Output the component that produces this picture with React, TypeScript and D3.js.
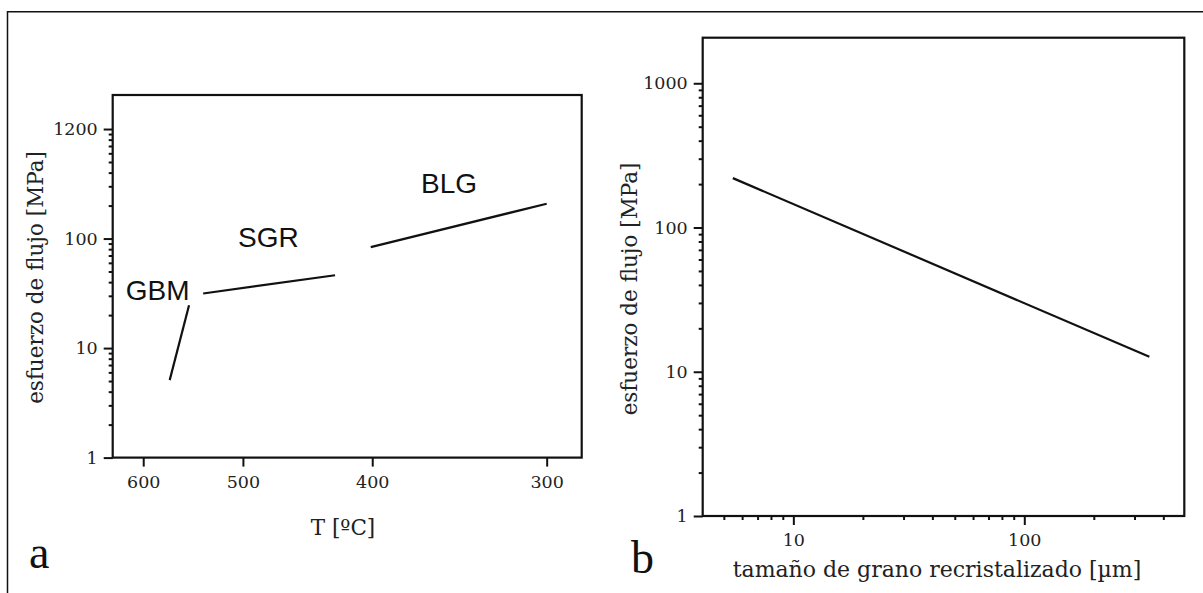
import React, { useRef, useEffect } from "react";
import * as d3 from "d3";

// Panel a: esfuerzo de flujo frente a temperatura (eje x en 1/T)
const tempTicks = [600, 500, 400, 300];
const stressTicksA = [1, 10, 100, 1000];
const stressTickLabelsA = ["1", "10", "100", "1200"];

// Tramos de cada régimen [T ºC, esfuerzo MPa]
const gbmSegment = [
  [571, 5.1],
  [551, 24.6],
];
const sgrSegment = [
  [537, 31.5],
  [426, 46.2],
];
const blgSegment = [
  [401, 83.6],
  [300, 208],
];
const regimeNames = ["GBM", "SGR", "BLG"];
const regimeAnchors = [
  [584, 27.5],
  [478, 84.2],
  [352, 260],
];

// Panel b: piezómetro (tamaño de grano frente a esfuerzo)
const grainTicks = [10, 100];
const stressTicksB = [1, 10, 100, 1000];
const piezometer = [
  [5.47, 220],
  [348, 12.7],
];

const W = 1203;
const H = 593;
const SERIF = "'DejaVu Serif', serif";
const inv = (t: number) => 1 / (t + 273.15);
const isDecade = (v: number) =>
  Math.abs(Math.log10(v) - Math.round(Math.log10(v))) < 1e-6;

const styleAxis = (g: any) => {
  g.select(".domain").remove();
  g.selectAll("line").attr("stroke", "#111").attr("stroke-width", 2);
  g.selectAll("text")
    .attr("fill", "#222")
    .style("font-family", SERIF)
    .style("font-size", "17.5px");
};

export default function App() {
  const ref = useRef<SVGSVGElement>(null);

  useEffect(() => {
    const container = ref.current;
    if (!container) return;
    d3.select(container).selectChildren().remove();
    const svg = d3.select(container);

    // Marco exterior (solo arriba e izquierda)
    svg
      .append("path")
      .attr("d", `M7.5,${H} V11.7 H${W}`)
      .attr("fill", "none")
      .attr("stroke", "#111")
      .attr("stroke-width", 1.5);

    // ---------- Panel a ----------
    const boxA = { left: 112.7, top: 95, right: 581.7, bottom: 457.6 };
    const wA = boxA.right - boxA.left;
    const hA = boxA.bottom - boxA.top;
    const ga = svg
      .append("g")
      .attr("transform", `translate(${boxA.left},${boxA.top})`);

    const xA = d3.scaleLinear().domain([inv(636), inv(283.4)]).range([0, wA]);
    const yA = d3.scaleLog().domain([1, 2045]).range([hA, 0]);

    ga.append("g")
      .attr("transform", `translate(0,${hA})`)
      .call(
        d3
          .axisBottom(xA)
          .tickValues(tempTicks.map(inv))
          .tickFormat((d, i) => String(tempTicks[i]))
          .tickSize(9)
          .tickPadding(9)
      )
      .call(styleAxis);

    ga.append("g")
      .call(
        d3
          .axisLeft(yA)
          .tickValues(stressTicksA)
          .tickFormat((d, i) => stressTickLabelsA[i])
          .tickSize(9)
          .tickPadding(6)
      )
      .call(styleAxis);

    ga.append("g")
      .call(
        d3
          .axisLeft(yA)
          .tickValues(yA.ticks().filter((v) => !isDecade(v) && v < 1000))
          .tickFormat(() => "")
          .tickSize(4)
      )
      .call(styleAxis);

    ga.append("rect")
      .attr("width", wA)
      .attr("height", hA)
      .attr("fill", "none")
      .attr("stroke", "#111")
      .attr("stroke-width", 2.2);

    const lineA = d3
      .line<number[]>()
      .x((d) => xA(inv(d[0])))
      .y((d) => yA(d[1]));

    [gbmSegment, sgrSegment, blgSegment].forEach((seg) => {
      ga.append("path")
        .attr("d", lineA(seg))
        .attr("fill", "none")
        .attr("stroke", "#111")
        .attr("stroke-width", 2.2);
    });

    ga.selectAll("text.regime")
      .data(regimeAnchors)
      .enter()
      .append("text")
      .attr("class", "regime")
      .attr("x", (d) => xA(inv(d[0])))
      .attr("y", (d) => yA(d[1]))
      .attr("text-anchor", "middle")
      .attr("fill", "#111")
      .style("font-family", "'Liberation Sans', Arial, sans-serif")
      .style("font-size", "28px")
      .text((d, i) => regimeNames[i]);

    // Rótulos de ejes
    svg
      .append("text")
      .attr("x", 343)
      .attr("y", 535)
      .attr("text-anchor", "middle")
      .attr("fill", "#222")
      .style("font-family", SERIF)
      .style("font-size", "21.5px")
      .text("T [ºC]");

    svg
      .append("text")
      .attr("transform", "translate(42.5,277.5) rotate(-90)")
      .attr("text-anchor", "middle")
      .attr("fill", "#222")
      .style("font-family", SERIF)
      .style("font-size", "21.5px")
      .text("esfuerzo de flujo [MPa]");

    svg
      .append("text")
      .attr("x", 29)
      .attr("y", 568)
      .attr("fill", "#111")
      .style("font-family", "'Liberation Serif', 'Times New Roman', serif")
      .style("font-size", "46px")
      .text("a");

    // ---------- Panel b ----------
    const boxB = { left: 702.7, top: 37.7, right: 1184.3, bottom: 516 };
    const wB = boxB.right - boxB.left;
    const hB = boxB.bottom - boxB.top;
    const gb = svg
      .append("g")
      .attr("transform", `translate(${boxB.left},${boxB.top})`);

    const xB = d3.scaleLog().domain([4.05, 493]).range([0, wB]);
    const yB = d3.scaleLog().domain([1, 2070]).range([hB, 0]);

    gb.append("g")
      .attr("transform", `translate(0,${hB})`)
      .call(
        d3
          .axisBottom(xB)
          .tickValues(grainTicks)
          .tickFormat((d) => String(d))
          .tickSize(9)
          .tickPadding(9)
      )
      .call(styleAxis);

    gb.append("g")
      .attr("transform", `translate(0,${hB})`)
      .call(
        d3
          .axisBottom(xB)
          .tickValues(xB.ticks().filter((v) => !isDecade(v)))
          .tickFormat(() => "")
          .tickSize(4)
      )
      .call(styleAxis);

    gb.append("g")
      .call(
        d3
          .axisLeft(yB)
          .tickValues(stressTicksB)
          .tickFormat((d) => String(d))
          .tickSize(9)
          .tickPadding(6)
      )
      .call(styleAxis);

    gb.append("g")
      .call(
        d3
          .axisLeft(yB)
          .tickValues(yB.ticks().filter((v) => !isDecade(v) && v < 1000))
          .tickFormat(() => "")
          .tickSize(4)
      )
      .call(styleAxis);

    gb.append("rect")
      .attr("width", wB)
      .attr("height", hB)
      .attr("fill", "none")
      .attr("stroke", "#111")
      .attr("stroke-width", 2.2);

    const lineB = d3
      .line<number[]>()
      .x((d) => xB(d[0]))
      .y((d) => yB(d[1]));

    gb.append("path")
      .attr("d", lineB(piezometer))
      .attr("fill", "none")
      .attr("stroke", "#111")
      .attr("stroke-width", 2.2);

    svg
      .append("text")
      .attr("x", 937)
      .attr("y", 577)
      .attr("text-anchor", "middle")
      .attr("fill", "#222")
      .style("font-family", SERIF)
      .style("font-size", "22px")
      .text("tamaño de grano recristalizado [µm]");

    svg
      .append("text")
      .attr("transform", "translate(637,289) rotate(-90)")
      .attr("text-anchor", "middle")
      .attr("fill", "#222")
      .style("font-family", SERIF)
      .style("font-size", "21.5px")
      .text("esfuerzo de flujo [MPa]");

    svg
      .append("text")
      .attr("x", 631)
      .attr("y", 573)
      .attr("fill", "#111")
      .style("font-family", "'Liberation Serif', 'Times New Roman', serif")
      .style("font-size", "46px")
      .text("b");
  }, []);

  return (
    <svg
      ref={ref}
      width={W}
      height={H}
      style={{ position: "absolute", left: 0, top: 0, background: "#fff" }}
    />
  );
}
